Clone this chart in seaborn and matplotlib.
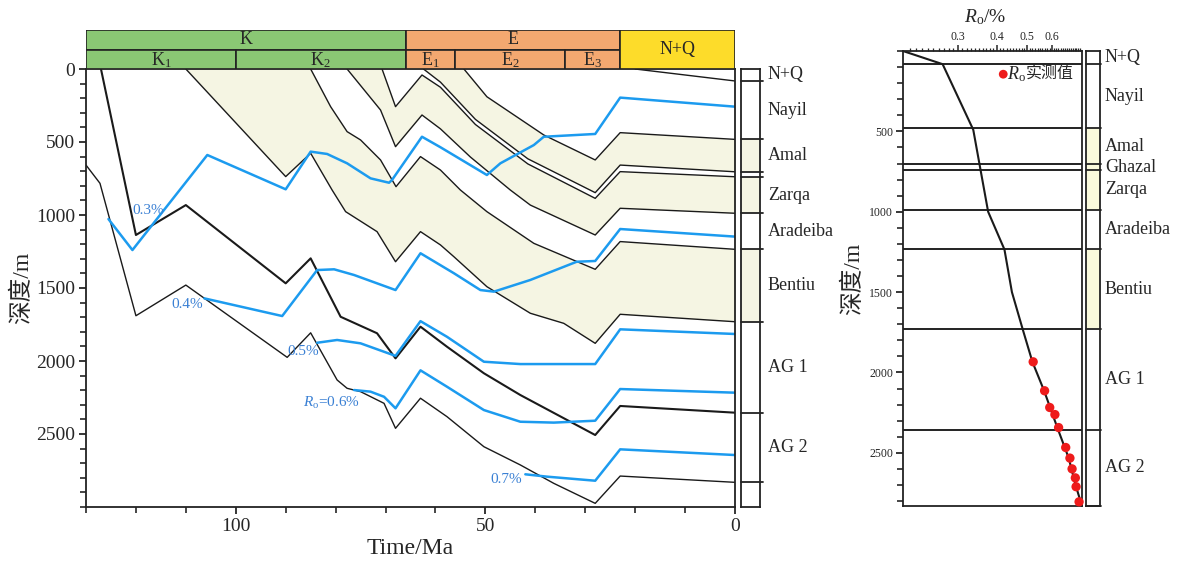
import numpy as np
import seaborn as sns
import matplotlib.pyplot as plt
import matplotlib.ticker as mticker
from matplotlib.patches import Rectangle

# ---- burial history: base of each formation (time in Ma, depth in m)
nq_t = [20, 0]
nq_d = [0, 82]
nayil_t = [54.3, 49.7, 38.3, 28, 23, 0]
nayil_d = [0, 190, 452, 623, 436, 482]
amal_t = [62.4, 59, 52, 41.5, 28, 23, 0]
amal_d = [0, 90, 345, 615, 847, 658, 704]
ghazal_t = [70.7, 68, 62.7, 59, 52, 41.5, 28, 23, 0]
ghazal_d = [0, 258, 41, 125, 380, 650, 886, 703, 738]
zarqa_t = [77.7, 71, 68, 62.7, 59, 53, 45, 41, 28, 23, 0]
zarqa_d = [0, 281, 532, 315, 410, 603, 829, 932, 1137, 954, 988]
aradeiba_t = [85, 81, 77.7, 75, 71, 67.9, 63, 59, 55, 49.7, 40.3, 28, 23, 0]
aradeiba_d = [0, 258, 429, 486, 623, 806, 600, 692, 829, 977, 1194, 1372, 1182, 1235]
bentiu_t = [110, 90, 85, 80.7, 78, 71.7, 68, 63, 59, 56.3, 49.7, 41, 34.3, 28, 23, 0]
bentiu_d = [0, 737, 577, 829, 977, 1114, 1320, 1114, 1205, 1286, 1491, 1673, 1742, 1879, 1680, 1731]
ag1_t = [127, 120, 110, 90, 85, 79, 71.7, 68, 63, 57.7, 50.3, 43, 28, 23, 0]
ag1_d = [0, 1137, 932, 1468, 1297, 1697, 1810, 1982, 1765, 1902, 2084, 2233, 2507, 2308, 2354]
ag2_t = [130, 127.2, 120, 110, 89.7, 85, 79.7, 77.7, 75, 70.3, 68, 63, 57.7, 50.3, 43, 36.3, 28, 23, 0]
ag2_d = [658, 783, 1690, 1480, 1975, 1807, 2130, 2187, 2210, 2290, 2461, 2255, 2381, 2587, 2712, 2838, 2975, 2788, 2831]

# ---- Ro isolines
ro03_t = [125.5, 120.7, 105.7, 90, 85, 81.7, 77.7, 73, 69.3, 68.7, 62.7, 59, 49.7, 47, 40.3, 38.3, 28, 23, 0]
ro03_d = [1028, 1240, 589, 824, 566, 582, 646, 749, 779, 760, 464, 536, 726, 646, 521, 464, 445, 196, 258]
ro04_t = [106.3, 90.7, 83.7, 80.3, 76.3, 68, 63, 56.3, 51, 48.3, 41, 31.7, 28, 23, 0]
ro04_d = [1571, 1692, 1377, 1372, 1411, 1514, 1262, 1399, 1514, 1525, 1445, 1320, 1315, 1096, 1148]
ro05_t = [83.7, 79.7, 75, 68, 63, 57.7, 50.3, 43, 28, 23, 0]
ro05_d = [1875, 1856, 1879, 1965, 1727, 1834, 2005, 2021, 2021, 1783, 1815]
ro06_t = [76.3, 73, 70.3, 68, 63, 57.7, 50.3, 43, 36.3, 28, 23, 0]
ro06_d = [2199, 2210, 2245, 2324, 2064, 2176, 2336, 2416, 2422, 2409, 2192, 2217]
ro07_t = [42, 37.7, 28, 23, 0]
ro07_d = [2776, 2792, 2820, 2605, 2644]

# ---- stratigraphy
formations = ['N+Q', 'Nayil', 'Amal', 'Ghazal', 'Zarqa', 'Aradeiba', 'Bentiu', 'AG 1', 'AG 2']
form_base = [82, 482, 704, 740, 988, 1235, 1731, 2356, 2831]

periods = ['K', 'E']
period_old = [130, 66]
period_young = [66, 23]
epochs = ['K$_1$', 'K$_2$', 'E$_1$', 'E$_2$', 'E$_3$']
epoch_old = [130, 100, 66, 56, 34]
epoch_young = [100, 66, 56, 34, 23]

# ---- Ro vs depth (well)
ro_curve = [0.2, 0.268, 0.336, 0.375, 0.423, 0.447, 0.484, 0.52, 0.567, 0.625, 0.68, 0.715, 0.75]
ro_curve_d = [0, 82, 490, 1000, 1235, 1500, 1731, 1934, 2114, 2343, 2533, 2700, 2831]
ro_meas = [0.523, 0.569, 0.591, 0.614, 0.631, 0.665, 0.686, 0.697, 0.714, 0.718, 0.734]
ro_meas_d = [1934, 2114, 2218, 2262, 2343, 2467, 2533, 2600, 2656, 2711, 2805]

sns.set_theme(style='ticks')
plt.rcParams['font.family'] = ['Liberation Serif', 'Noto Sans CJK SC']
plt.rcParams['mathtext.fontset'] = 'custom'
plt.rcParams['mathtext.rm'] = 'Liberation Serif'
plt.rcParams['mathtext.it'] = 'Liberation Serif:italic'
plt.rcParams['axes.linewidth'] = 1.3
plt.rcParams['axes.edgecolor'] = '#222222'

W, H = 1194, 562
fig = plt.figure(figsize=(W / 100, H / 100), dpi=100)


def box(x0, y0, x1, y1):
    return [x0 / W, 1 - y1 / H, (x1 - x0) / W, (y1 - y0) / H]


ax = fig.add_axes(box(86, 69, 735, 507))
ax_bar = fig.add_axes(box(86, 30, 735, 69))
ax_col = fig.add_axes(box(741, 69, 760, 507))
ax_ro = fig.add_axes(box(903, 51, 1082, 506))
ax_rcol = fig.add_axes(box(1086, 51, 1100, 506))

shade = '#F5F5E3'
shade_r = '#FAFADC'
blue = '#1C9BEF'
blue_txt = '#3A80D4'

# ---------- burial history
tg = np.linspace(0, 130, 2601)


def on_grid(t, d):
    return np.interp(tg, np.array(t)[::-1], np.array(d)[::-1], right=0)


for (ut, ud), (lt, ld) in [((nayil_t, nayil_d), (amal_t, amal_d)),
                           ((ghazal_t, ghazal_d), (zarqa_t, zarqa_d)),
                           ((aradeiba_t, aradeiba_d), (bentiu_t, bentiu_d))]:
    ax.fill_between(tg, on_grid(ut, ud), on_grid(lt, ld), where=tg <= lt[0],
                    color=shade, lw=0)

horizons = [(nq_t, nq_d), (nayil_t, nayil_d), (amal_t, amal_d), (ghazal_t, ghazal_d),
            (zarqa_t, zarqa_d), (aradeiba_t, aradeiba_d), (bentiu_t, bentiu_d),
            (ag1_t, ag1_d), (ag2_t, ag2_d)]
for t, d in horizons:
    lw = 1.5 if t is ag1_t else 1.0
    sns.lineplot(x=t, y=d, sort=False, estimator=None, color='#1a1a1a', lw=lw, ax=ax)

for t, d in [(ro03_t, ro03_d), (ro04_t, ro04_d), (ro05_t, ro05_d),
             (ro06_t, ro06_d), (ro07_t, ro07_d)]:
    sns.lineplot(x=t, y=d, sort=False, estimator=None, color=blue, lw=1.8, ax=ax)

for txt, tx, dy in [('0.3%', 117.5, 970), ('0.4%', 109.8, 1616), ('0.5%', 86.5, 1936),
                    ('$R_\\mathrm{o}$=0.6%', 80.8, 2290), ('0.7%', 45.8, 2815)]:
    ax.text(tx, dy, txt, color=blue_txt, fontsize=11, ha='center', va='center')

ax.set_xlim(130, 0)
ax.set_ylim(3000, 0)
ax.xaxis.set_major_locator(mticker.FixedLocator([100, 50, 0]))
ax.xaxis.set_minor_locator(mticker.MultipleLocator(10))
ax.yaxis.set_major_locator(mticker.FixedLocator([0, 500, 1000, 1500, 2000, 2500]))
ax.yaxis.set_minor_locator(mticker.MultipleLocator(100))
ax.tick_params(which='major', direction='out', length=5, width=1.3, labelsize=14, pad=3)
ax.tick_params(which='minor', direction='out', length=4, width=1.2)
ax.set_xlabel('Time/Ma', fontsize=17, labelpad=2)
ax.set_ylabel('深度/m', fontsize=17, labelpad=2)

# ---------- geologic time bar
ax_bar.set_xlim(130, 0)
ax_bar.set_ylim(0, 2)
ax_bar.axis('off')
for name, t0, t1 in zip(periods, period_old, period_young):
    c = '#8AC774' if name == 'K' else '#F3A870'
    ax_bar.add_patch(Rectangle((t1, 1), t0 - t1, 1, fc=c, ec='#222222', lw=1.2))
    ax_bar.text((t0 + t1) / 2, 1.5, name, ha='center', va='center', fontsize=13)
for name, t0, t1 in zip(epochs, epoch_old, epoch_young):
    c = '#8AC774' if name.startswith('K') else '#F3A870'
    ax_bar.add_patch(Rectangle((t1, 0), t0 - t1, 1, fc=c, ec='#222222', lw=1.2))
    ax_bar.text((t0 + t1) / 2, 0.45, name, ha='center', va='center', fontsize=13)
ax_bar.add_patch(Rectangle((0, 0), 23, 2, fc='#FDDC2A', ec='#222222', lw=1.2))
ax_bar.text(11.5, 1, 'N+Q', ha='center', va='center', fontsize=13)

# ---------- strat columns
tops = [0] + form_base[:-1]
mids = [(a + b) / 2 for a, b in zip(tops, form_base)]

ax_col.set_xlim(0, 1)
ax_col.set_ylim(3000, 0)
ax_col.set_xticks([])
ax_col.set_yticks([])
trc = ax_col.get_yaxis_transform()
for name, top, base, mid in zip(formations, tops, form_base, mids):
    if name in ('Amal', 'Zarqa', 'Bentiu'):
        ax_col.axhspan(top, base, color=shade, lw=0)
    ax_col.plot([0, 1.15], [base, base], color='#222222', lw=1.3, transform=trc, clip_on=False)
    if name != 'Ghazal':
        ax_col.text(1.42, mid, name, transform=trc, fontsize=13, va='center', ha='left')

ax_rcol.set_xlim(0, 1)
ax_rcol.set_ylim(2831, 0)
ax_rcol.set_xticks([])
ax_rcol.set_yticks([])
trr = ax_rcol.get_yaxis_transform()
for name, top, base, mid in zip(formations, tops, form_base, mids):
    if name in ('Amal', 'Ghazal', 'Zarqa', 'Bentiu'):
        ax_rcol.axhspan(top, base, color=shade_r, lw=0)
    ax_rcol.plot([0, 1.1], [base, base], color='#222222', lw=1.3, transform=trr, clip_on=False)
    ax_rcol.text(1.35, mid, name, transform=trr, fontsize=13, va='center', ha='left')

# ---------- Ro profile
ax_ro.set_xscale('log')
ax_ro.set_xlim(0.2, 0.75)
ax_ro.set_ylim(2831, 0)
for b in form_base[:-1]:
    ax_ro.axhline(b, color='#222222', lw=1.4)
sns.lineplot(x=ro_curve, y=ro_curve_d, sort=False, estimator=None, color='#1a1a1a', lw=1.5, ax=ax_ro)
sns.scatterplot(x=ro_meas, y=ro_meas_d, color='#EE1B1B', s=45, edgecolor='none', ax=ax_ro,
                zorder=5, clip_on=False)

ax_ro.xaxis.tick_top()
ax_ro.xaxis.set_major_locator(mticker.FixedLocator([0.3, 0.4, 0.5, 0.6]))
ax_ro.xaxis.set_major_formatter(mticker.FixedFormatter(['0.3', '0.4', '0.5', '0.6']))
ax_ro.xaxis.set_minor_locator(mticker.FixedLocator(np.arange(0.21, 0.75, 0.01)))
ax_ro.xaxis.set_minor_formatter(mticker.NullFormatter())
ax_ro.yaxis.set_major_locator(mticker.FixedLocator([500, 1000, 1500, 2000, 2500]))
ax_ro.yaxis.set_minor_locator(mticker.MultipleLocator(100))
ax_ro.tick_params(axis='x', which='major', direction='out', length=4, width=1.1, labelsize=8.5, pad=2)
ax_ro.tick_params(axis='x', which='minor', direction='out', length=2.5, width=0.9)
ax_ro.tick_params(axis='y', which='major', direction='out', length=5, width=1.3, labelsize=8.5, pad=2)
ax_ro.tick_params(axis='y', which='minor', direction='out', length=4, width=1.2)
ax_ro.set_xlabel('')
ax_ro.set_ylabel('深度/m', fontsize=17, labelpad=4)
ax_ro.text(0.458, 1.075, '$R_\\mathrm{o}$/%', transform=ax_ro.transAxes, ha='center',
           va='center', fontsize=14)
ax_ro.scatter([0.56], [0.949], transform=ax_ro.transAxes, color='#EE1B1B', s=40,
              edgecolor='none', zorder=6)
ax_ro.text(0.58, 0.949, '$R_\\mathrm{o}$', transform=ax_ro.transAxes, ha='left',
           va='center', fontsize=13)
ax_ro.text(0.685, 0.949, '实测值', transform=ax_ro.transAxes, ha='left', va='center',
           fontsize=11.5, family=['Noto Sans CJK SC'])

fig.savefig('out.png', dpi=100, facecolor='white')
